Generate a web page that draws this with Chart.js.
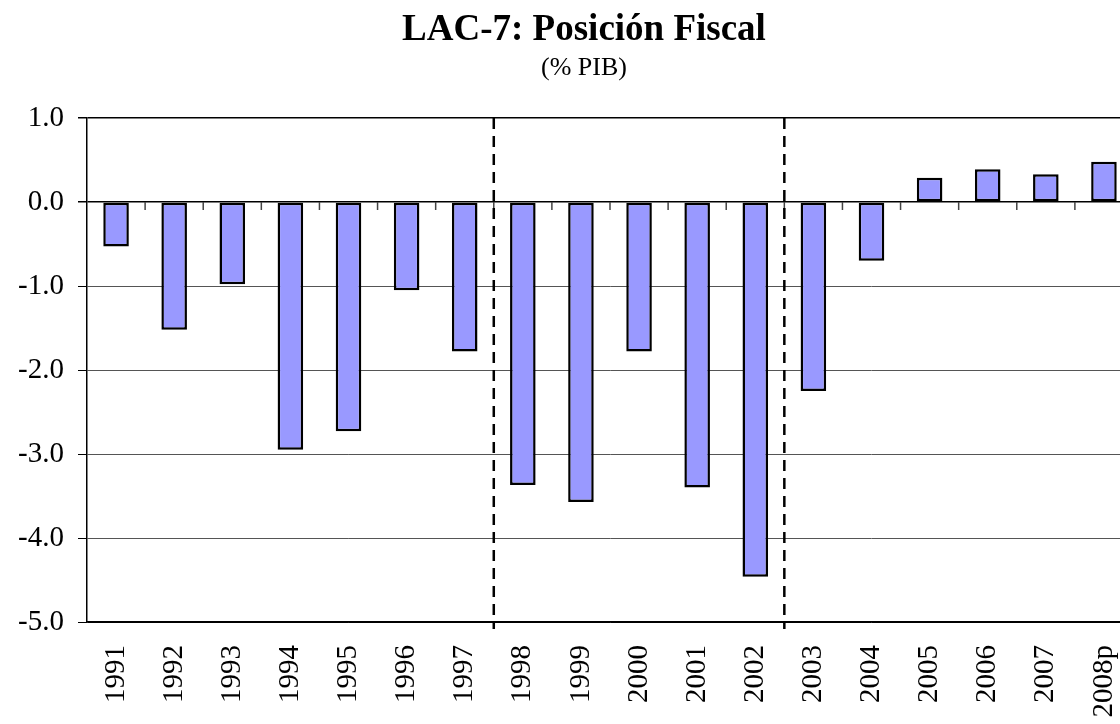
<!DOCTYPE html>
<html>
<head>
<meta charset="utf-8">
<script src="https://cdn.jsdelivr.net/npm/chart.js@4.4.1/dist/chart.umd.min.js"></script>
<style>
  html, body { margin: 0; padding: 0; background: #fff; overflow: hidden; }
  #fiscalChart { display: block; }
</style>
</head>
<body>
<canvas id="fiscalChart" width="1168" height="724"></canvas>
<script>
const years = ["1991", "1992", "1993", "1994", "1995", "1996", "1997", "1998", "1999",
               "2000", "2001", "2002", "2003", "2004", "2005", "2006", "2007", "2008p"];
const balance = [-0.53, -1.52, -0.98, -2.95, -2.73, -1.05, -1.78, -3.37, -3.57,
                 -1.78, -3.40, -4.46, -2.25, -0.70, 0.29, 0.39, 0.33, 0.48];
const yMin = -5;
const yMax = 1;
// a dashed line is drawn just before these years
const periodBreaks = ["1998", "2003"];

const serif = "'Liberation Serif', 'Times New Roman', serif";

// boundary between category i-1 and i
function boundaryPx(x, i) {
    return (x.getPixelForValue(i - 1) + x.getPixelForValue(i)) / 2;
}

const axisMarks = {
    id: "axisMarks",
    afterDatasetsDraw(chart) {
        const { ctx, chartArea, scales: { x, y } } = chart;
        const zeroY = y.getPixelForValue(0);
        ctx.save();

        // tick marks hanging under the zero line
        ctx.strokeStyle = "#444";
        ctx.lineWidth = 1.5;
        for (let i = 1; i <= years.length; i++) {
            const px = boundaryPx(x, i);
            ctx.beginPath();
            ctx.moveTo(px, zeroY);
            ctx.lineTo(px, zeroY + 8);
            ctx.stroke();
        }

        // period separators
        ctx.strokeStyle = "#000";
        ctx.lineWidth = 2.5;
        ctx.setLineDash([11, 7]);
        periodBreaks.forEach(year => {
            const px = boundaryPx(x, years.indexOf(year));
            ctx.beginPath();
            ctx.moveTo(px, chartArea.top);
            ctx.lineTo(px, chartArea.bottom + 7);
            ctx.stroke();
        });
        ctx.restore();
    }
};

new Chart(document.getElementById("fiscalChart"), {
    type: "bar",
    data: {
        labels: years,
        datasets: [{
            data: balance,
            backgroundColor: "#9999FF",
            borderColor: "#000",
            borderWidth: 2.5,
            borderSkipped: false,
            barPercentage: 0.44,
            categoryPercentage: 1
        }]
    },
    options: {
        responsive: false,
        animation: false,
        layout: { padding: 0 },
        plugins: {
            legend: { display: false },
            tooltip: { enabled: false },
            title: {
                display: true,
                text: "LAC-7: Posición Fiscal",
                color: "#000",
                font: { family: serif, size: 37, weight: "bold" },
                padding: { top: 8, bottom: 0 }
            },
            subtitle: {
                display: true,
                text: "(% PIB)",
                color: "#000",
                font: { family: serif, size: 26 },
                padding: { top: 0, bottom: 34.4 }
            }
        },
        scales: {
            x: {
                offset: true,
                grid: { display: false, drawTicks: false },
                border: { display: true, color: "#000", width: 1.5 },
                ticks: {
                    color: "#000",
                    font: { family: serif, size: 29 },
                    minRotation: 90,
                    maxRotation: 90,
                    autoSkip: false,
                    padding: 23
                },
                afterFit(scale) { scale.height = 102; }
            },
            y: {
                min: yMin,
                max: yMax,
                ticks: {
                    stepSize: 1,
                    color: "#000",
                    font: { family: serif, size: 29 },
                    padding: 14,
                    callback: v => v.toFixed(1)
                },
                grid: {
                    color: c => ([0, yMax, yMin].includes(c.tick.value) ? "#000" : "#555"),
                    lineWidth: c => (c.tick.value === 0 || c.tick.value === yMax ? 1.5 : 1),
                    tickLength: 9,
                    tickColor: "#000"
                },
                border: { display: true, color: "#000", width: 1.5 },
                afterFit(scale) { scale.width = 87; }
            },
            // empty strip on the right: the plot runs past the visible edge
            yRight: {
                position: "right",
                display: true,
                grid: { display: false, drawTicks: false },
                border: { display: false },
                ticks: { display: false },
                afterFit(scale) { scale.width = 35; }
            }
        }
    },
    plugins: [axisMarks]
});
</script>
</body>
</html>
